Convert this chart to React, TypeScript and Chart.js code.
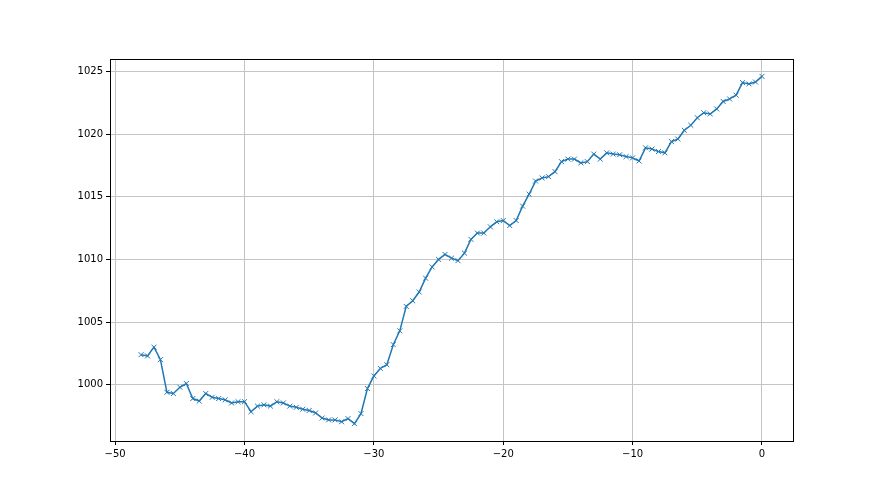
import React, { useEffect, useRef } from "react";
import { Chart, registerables } from "chart.js";

Chart.register(...registerables);

const xValues: number[] = [
  -48, -47.5, -47, -46.5, -46, -45.5, -45, -44.5, -44, -43.5, -43, -42.5, -42, -41.5, -41, -40.5,
  -40, -39.5, -39, -38.5, -38, -37.5, -37, -36.5, -36, -35.5, -35, -34.5, -34, -33.5, -33, -32.5,
  -32, -31.5, -31, -30.5, -30, -29.5, -29, -28.5, -28, -27.5, -27, -26.5, -26, -25.5, -25, -24.5,
  -24, -23.5, -23, -22.5, -22, -21.5, -21, -20.5, -20, -19.5, -19, -18.5, -18, -17.5, -17, -16.5,
  -16, -15.5, -15, -14.5, -14, -13.5, -13, -12.5, -12, -11.5, -11, -10.5, -10, -9.5, -9, -8.5,
  -8, -7.5, -7, -6.5, -6, -5.5, -5, -4.5, -4, -3.5, -3, -2.5, -2, -1.5, -1, -0.5, 0,
];

const pressure: number[] = [
  1002.4, 1002.3, 1003.0, 1002.0, 999.4, 999.3, 999.8, 1000.1, 998.9, 998.7, 999.3, 999.0, 998.9, 998.8, 998.55, 998.65,
  998.65, 997.85, 998.3, 998.4, 998.3, 998.65, 998.55, 998.3, 998.2, 998.05, 997.95, 997.75, 997.35, 997.2, 997.2, 997.05,
  997.3, 996.9, 997.7, 999.7, 1000.7, 1001.3, 1001.6, 1003.2, 1004.3, 1006.25, 1006.7, 1007.4, 1008.5, 1009.4, 1010.0, 1010.4,
  1010.1, 1009.9, 1010.5, 1011.6, 1012.1, 1012.1, 1012.6, 1013.0, 1013.1, 1012.7, 1013.1, 1014.25, 1015.2, 1016.25, 1016.5, 1016.6,
  1017.0, 1017.8, 1018.0, 1018.0, 1017.7, 1017.8, 1018.4, 1018.0, 1018.5, 1018.4, 1018.35, 1018.2, 1018.1, 1017.85, 1018.9, 1018.8,
  1018.6, 1018.5, 1019.4, 1019.6, 1020.3, 1020.7, 1021.3, 1021.7, 1021.6, 1022.0, 1022.6, 1022.8, 1023.1, 1024.1, 1024.0, 1024.15, 1024.6,
];

const xTicks: number[] = [-50, -40, -30, -20, -10, 0];
const yTicks: number[] = [1000, 1005, 1010, 1015, 1020, 1025];

const frame = {
  id: "frame",
  afterDraw(chart: any) {
    const { ctx, chartArea } = chart;
    ctx.save();
    ctx.strokeStyle = "#000";
    ctx.lineWidth = 1;
    ctx.strokeRect(
      Math.round(chartArea.left) + 0.5,
      Math.round(chartArea.top) + 0.5,
      Math.round(chartArea.right - chartArea.left),
      Math.round(chartArea.bottom - chartArea.top)
    );
    ctx.restore();
  },
};

export default function App() {
  const ref = useRef<HTMLCanvasElement | null>(null);
  useEffect(() => {
    if (!ref.current) return;
    const xmin = Math.min(...xValues), xmax = Math.max(...xValues);
    const ymin = Math.min(...pressure), ymax = Math.max(...pressure);
    const xm = (xmax - xmin) * 0.05, ym = (ymax - ymin) * 0.05;
    const font = { family: "DejaVu Sans", size: 10 };
    const minus = (v: number) => String(v).replace("-", "\u2212");
    const chart = new Chart(ref.current, {
      type: "line",
      data: {
        datasets: [
          {
            data: xValues.map((x, i) => ({ x, y: pressure[i] })),
            borderColor: "#1f77b4",
            backgroundColor: "#1f77b4",
            borderWidth: 1.5,
            pointStyle: "crossRot",
            pointRadius: 3.5,
            pointBorderWidth: 1,
            pointBorderColor: "#1f77b4",
            fill: false,
            tension: 0,
          },
        ],
      },
      options: {
        animation: false,
        responsive: false,
        devicePixelRatio: 1,
        layout: { padding: { left: 0, top: 59, right: 87, bottom: 0 } },
        plugins: { legend: { display: false }, tooltip: { enabled: false } },
        scales: {
          x: {
            type: "linear",
            min: xmin - xm,
            max: xmax + xm,
            afterFit: (s: any) => { s.height = 54; },
            afterBuildTicks: (s: any) => { s.ticks = xTicks.map((v) => ({ value: v })); },
            grid: { color: "#c4c4c4", lineWidth: 1, tickLength: 4, tickColor: "#000" },
            border: { display: true, color: "#000" },
            ticks: { font, color: "#000", padding: 3, maxRotation: 0, callback: (v: any) => minus(v) },
          },
          y: {
            type: "linear",
            min: ymin - ym,
            max: ymax + ym,
            afterFit: (s: any) => { s.width = 110; },
            afterBuildTicks: (s: any) => { s.ticks = yTicks.map((v) => ({ value: v })); },
            grid: { color: "#c4c4c4", lineWidth: 1, tickLength: 4, tickColor: "#000" },
            border: { display: true, color: "#000" },
            ticks: { font, color: "#000", padding: 3, callback: (v: any) => String(v) },
          },
        },
      },
      plugins: [frame],
    });
    return () => chart.destroy();
  }, []);
  return (
    <div style={{ position: "absolute", left: 0, top: 0, width: 880, height: 495, background: "#fff" }}>
      <canvas ref={ref} width={880} height={495} style={{ width: 880, height: 495 }} />
    </div>
  );
}
